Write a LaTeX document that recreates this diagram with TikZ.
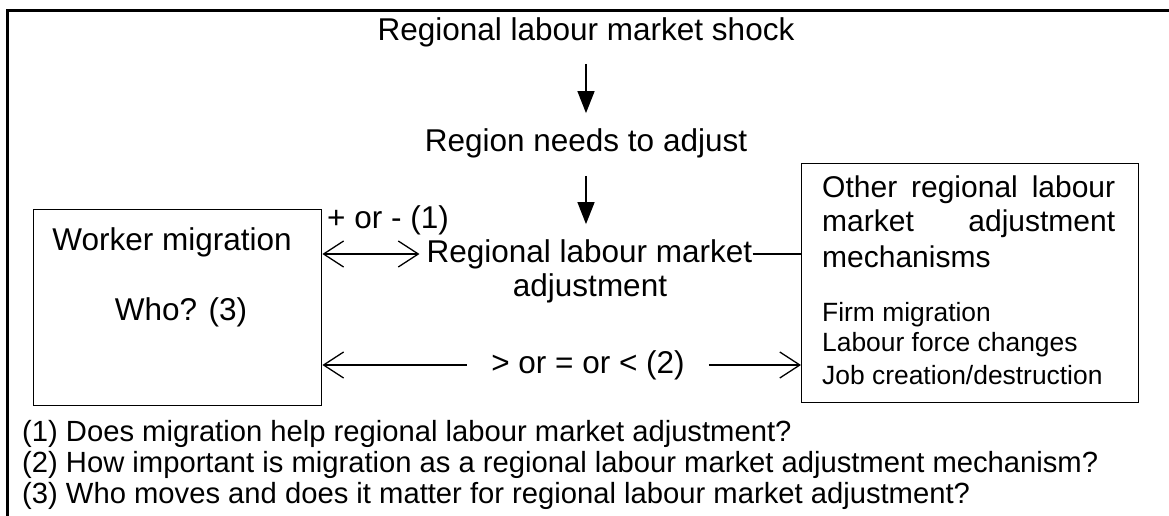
\documentclass[tikz,border=0pt]{standalone}
\usepackage{fontspec}
\setmainfont{Liberation Sans}
\usetikzlibrary{arrows.meta}
\tikzset{
  txt/.style={inner sep=0pt, font=\fontsize{31.5}{33.5}\selectfont},
  boxtxt/.style={inner sep=0pt, anchor=west, font=\fontsize{30}{33.5}\selectfont},
  smalltxt/.style={inner sep=0pt, anchor=west, align=left, font=\fontsize{26.4}{30}\selectfont},
  foot/.style={inner sep=0pt, anchor=west, font=\fontsize{29.2}{31}\selectfont},
  boxed/.style={draw, line width=1.4pt, anchor=north west},
  frameline/.style={line width=2.5pt},
  downarrow/.style={line width=1.4pt, -{Triangle[length=22pt,width=17pt]}},
  barbline/.style={line width=1.3pt},
}
\begin{document}
\begin{tikzpicture}[x=1pt,y=-1pt]
\useasboundingbox (0,0) rectangle (1169,516);
% outer frame (left and top only)
\draw[frameline] (7.3,516) -- (7.3,10.3) -- (1169,10.3);

% central chain
\node[txt] (shock) at (586,32) {Regional labour market shock};
\node[txt] (needs) at (586,143) {Region needs to adjust};
\node[txt] (rlm) at (589.5,254) {Regional labour market};
\node[txt] (adj) at (590,288) {adjustment};

\draw[downarrow, shorten <=17pt, shorten >=15pt] (shock.south) -- (needs.north);
\draw[downarrow, shorten <=18pt, shorten >=15pt] (needs.south -| shock.south) -- (rlm.north -| shock.south);

% worker migration box
\node[boxed, minimum width=288pt, minimum height=196pt] (wm) at (33,209) {};
\node[txt] (wmt) at (172,242) {Worker migration};
\node[txt] (who) at (181,312) {Who? (3)};

% other mechanisms box
\node[boxed, minimum width=337pt, minimum height=239pt] (oth) at (801,163) {};
\node[boxtxt] (o1) at (822,190) {\makebox[293pt][s]{Other regional labour}};
\node[boxtxt] (o2) at (822,223.5) {\makebox[293pt][s]{market adjustment}};
\node[boxtxt] (o3) at (822,257) {mechanisms};
\node[smalltxt] (f1) at (822,315) {Firm migration};
\node[smalltxt] (f2) at (822,345) {Labour force changes};
\node[smalltxt] (f3) at (822,375) {Job creation/destruction};

% connectors
\node[txt, anchor=west] (pm) at (327,220) {+ or - (1)};
\draw[barbline, {Straight Barb[length=20pt,width=26pt,line width=1.3pt]}-{Straight Barb[length=20pt,width=26pt,line width=1.3pt]}, shorten >=7pt] (wm.east |- rlm.center) -- (rlm.west);
\draw[barbline] (rlm.east) -- (oth.west |- rlm.center);

\node[txt, inner xsep=24pt] (cmp) at (588,365) {> or = or < (2)};
\draw[barbline, {Straight Barb[length=20pt,width=26pt,line width=1.3pt]}-] (wm.east |- cmp.center) -- (cmp.west);
\draw[barbline, -{Straight Barb[length=20pt,width=26pt,line width=1.3pt]}] (cmp.east) -- (oth.west |- cmp.center);

% footnotes
\node[foot] (n1) at (22,434) {(1) Does migration help regional labour market adjustment?};
\node[foot] (n2) at (22,465) {(2) How important is migration as a regional labour market adjustment mechanism?};
\node[foot] (n3) at (22,496) {(3) Who moves and does it matter for regional labour market adjustment?};
\end{tikzpicture}
\end{document}
